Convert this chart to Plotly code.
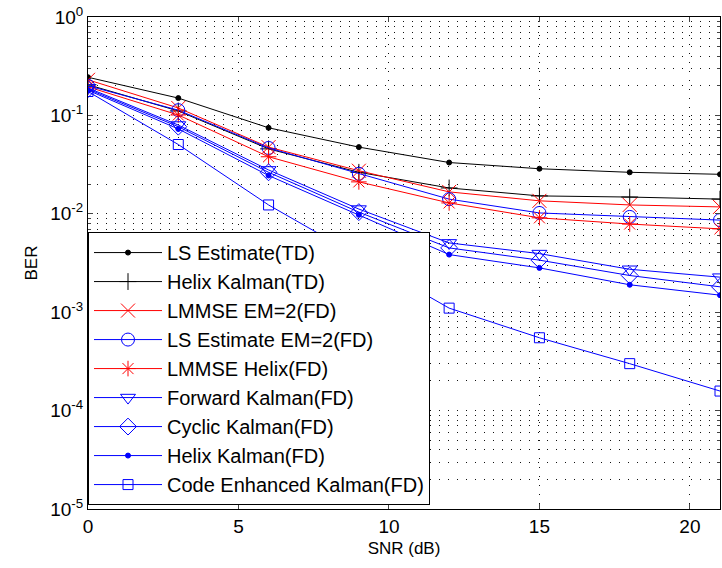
import plotly.graph_objects as go

snr = [0, 3, 6, 9, 12, 15, 18, 21]
ls_td = [0.244, 0.150, 0.0748, 0.0476, 0.0332, 0.0287, 0.0264, 0.0252]
helix_td = [0.205, 0.111, 0.0457, 0.0264, 0.0183, 0.0152, 0.0148, 0.0141]
lmmse_em2 = [0.230, 0.119, 0.0476, 0.0274, 0.0167, 0.01355, 0.0123, 0.01175]
ls_em2 = [0.200, 0.113, 0.0467, 0.0255, 0.0141, 0.0102, 0.0093, 0.00863]
lmmse_helix = [0.195, 0.101, 0.038, 0.0211, 0.0129, 0.0091, 0.00787, 0.00703]
fwd_kal = [0.190, 0.0798, 0.0279, 0.01117, 0.00506, 0.00394, 0.00273, 0.00227]
cyc_kal = [0.185, 0.0768, 0.0264, 0.0104, 0.0045, 0.00338, 0.00236, 0.00181]
helix_fd = [0.180, 0.0729, 0.0245, 0.00976, 0.00385, 0.00282, 0.0019, 0.00149]
code_kal = [0.175, 0.0506, 0.0123, 0.00366, 0.0011, 0.00055, 0.0003, 0.000158]

names = ["LS Estimate(TD)", "Helix Kalman(TD)", "LMMSE EM=2(FD)", "LS Estimate EM=2(FD)",
         "LMMSE Helix(FD)", "Forward Kalman(FD)", "Cyclic Kalman(FD)", "Helix Kalman(FD)",
         "Code Enhanced Kalman(FD)"]
series = [ls_td, helix_td, lmmse_em2, ls_em2, lmmse_helix, fwd_kal, cyc_kal, helix_fd, code_kal]
colors = ["#000000", "#000000", "#ff0000", "#0000ff", "#ff0000", "#0000ff", "#0000ff", "#0000ff", "#0000ff"]
symbols = ["circle", "cross-thin", "x-thin", "circle-open", "asterisk-open", "triangle-down-open",
           "diamond-open", "circle", "square-open"]
sizes = [5, 12, 14, 13, 13, 13, 13, 5, 10]

fig = go.Figure()
for i, (nm, ys, c, s, sz) in enumerate(zip(names, series, colors, symbols, sizes)):
    fig.add_trace(go.Scatter(
        x=snr, y=ys, name=nm, mode="lines+markers", legendgroup=f"g{i}",
        line=dict(color=c, width=1),
        marker=dict(symbol=s, size=sz, color=c, line=dict(color=c, width=1)),
    ))

font_family = "Liberation Sans, Arial, sans-serif"
ytickvals = [1e0, 1e-1, 1e-2, 1e-3, 1e-4, 1e-5]
yticktext = ["10<sup>0</sup>", "10<sup>-1</sup>", "10<sup>-2</sup>", "10<sup>-3</sup>",
             "10<sup>-4</sup>", "10<sup>-5</sup>"]
yminor = [m * 10.0 ** e for e in range(-5, 0) for m in range(2, 10)]

grid_dash = "1px,8px"
grid_col = "#111111"
fig.update_layout(
    width=722, height=568,
    margin=dict(l=88, r=2, t=17, b=59),
    paper_bgcolor="white", plot_bgcolor="white",
    font=dict(family=font_family, size=18, color="black"),
    showlegend=True,
    legend=dict(x=0.0, y=0.008, xanchor="left", yanchor="bottom",
                bgcolor="white", bordercolor="black", borderwidth=1,
                font=dict(size=20), traceorder="grouped", tracegroupgap=0,
                itemwidth=68),
    xaxis=dict(range=[0, 21], tickvals=[0, 5, 10, 15, 20], ticks="inside", ticklen=5,
               showline=True, linecolor="black", linewidth=1, mirror="ticks",
               showgrid=True, gridcolor=grid_col, griddash=grid_dash, gridwidth=1,
               zeroline=False, title=dict(text="SNR (dB)", font=dict(size=17), standoff=6),
               tickfont=dict(size=19)),
    yaxis=dict(type="log", range=[-5, 0], tickvals=ytickvals, ticktext=yticktext,
               ticks="inside", ticklen=5, showline=True, linecolor="black", linewidth=1,
               mirror="ticks", showgrid=True, gridcolor=grid_col, griddash=grid_dash,
               gridwidth=1, zeroline=False,
               minor=dict(tickvals=yminor, ticks="inside", ticklen=3, showgrid=True,
                          gridcolor=grid_col, griddash=grid_dash, gridwidth=1),
               title=dict(text="BER", font=dict(size=17), standoff=8),
               tickfont=dict(size=19)),
)

fig.write_html("out.html")
